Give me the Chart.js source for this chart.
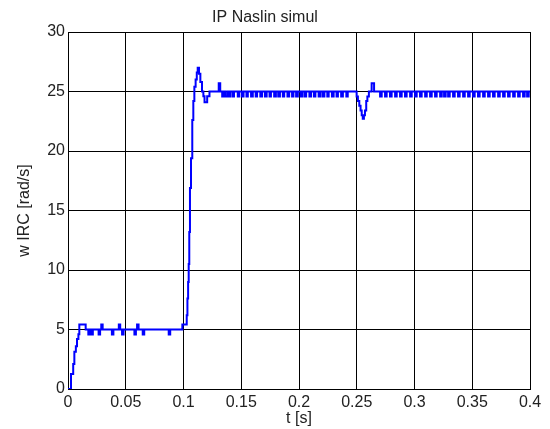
<!DOCTYPE html>
<html>
<head>
<meta charset="utf-8">
<script src="https://cdn.jsdelivr.net/npm/chart.js@4.4.0/dist/chart.umd.min.js"></script>
<style>
    html, body { margin: 0; padding: 0; background: #ffffff; }
    #wrap { width: 550px; height: 429px; }
</style>
</head>
<body>
<div id="wrap"><canvas id="chart" width="550" height="429"></canvas></div>
<script>
// axis ticks
var xTickValues = [0, 0.05, 0.1, 0.15, 0.2, 0.25, 0.3, 0.35, 0.4];
var xTickLabels = ['0', '0.05', '0.1', '0.15', '0.2', '0.25', '0.3', '0.35', '0.4'];
var yTickValues = [0, 5, 10, 15, 20, 25, 30];
var yTickLabels = ['0', '5', '10', '15', '20', '25', '30'];

// each point holds its value until the next time (zero order hold)
// start up and 5 rad/s plateau
var startT = [0, 0.0026, 0.0045, 0.0055, 0.0068, 0.0078, 0.0090, 0.0098, 0.0153, 0.0176, 0.0190, 0.0200, 0.0215,
    0.0265, 0.0278, 0.0288, 0.0300, 0.0380, 0.0393, 0.0440, 0.0452, 0.0468, 0.0481, 0.0575, 0.0588, 0.0598, 0.0611,
    0.0647, 0.0660, 0.0872, 0.0885, 0.0990];
var startW = [0, 1.26, 2.1, 3.13, 3.6, 4.2, 4.6, 5.42, 5.0, 4.58, 5.0, 4.58, 5.0,
    4.58, 5.0, 5.42, 5.0, 4.58, 5.0, 5.42, 5.0, 4.58, 5.0, 4.58, 5.0, 5.42, 5.0,
    4.58, 5.0, 4.58, 5.0, 5.42];

// step to 25 rad/s with overshoot
var stepT = [0.1028, 0.1034, 0.1040, 0.1045, 0.1050, 0.1056, 0.1065, 0.1076, 0.1085, 0.1094, 0.1105, 0.1115, 0.1123,
    0.1134, 0.1146, 0.1160, 0.1172, 0.1182, 0.1205, 0.1225, 0.1305, 0.1318];
var stepW = [6.2, 7.6, 9.0, 10.5, 13.2, 16.9, 19.4, 22.6, 24.2, 25.4, 26.0, 26.6, 27.0,
    26.5, 25.8, 25.0, 24.6, 24.1, 24.6, 25.0, 25.7, 25.0];

// quantisation flicker on the 25 rad/s plateau
var plateauT = [0.1335, 0.1350, 0.1360, 0.1378, 0.1390, 0.1405, 0.1425, 0.1437, 0.1470, 0.1482, 0.1505, 0.1520,
    0.1545, 0.1557, 0.1585, 0.1600, 0.1625, 0.1637, 0.1665, 0.1680, 0.1705, 0.1720, 0.1745, 0.1757, 0.1785, 0.1800,
    0.1820, 0.1835, 0.1860, 0.1872, 0.1900, 0.1915, 0.1940, 0.1952, 0.1975, 0.1990, 0.2015, 0.2030, 0.2050, 0.2062,
    0.2090, 0.2105, 0.2130, 0.2142, 0.2170, 0.2185, 0.2205, 0.2220, 0.2245, 0.2257, 0.2285, 0.2300, 0.2325, 0.2337,
    0.2365, 0.2380, 0.2410, 0.2422];
var plateauW = [24.58, 25, 24.58, 25, 24.58, 25, 24.58, 25, 24.58, 25, 24.58, 25,
    24.58, 25, 24.58, 25, 24.58, 25, 24.58, 25, 24.58, 25, 24.58, 25, 24.58, 25,
    24.58, 25, 24.58, 25, 24.58, 25, 24.58, 25, 24.58, 25, 24.58, 25, 24.58, 25,
    24.58, 25, 24.58, 25, 24.58, 25, 24.58, 25, 24.58, 25, 24.58, 25, 24.58, 25,
    24.58, 25, 24.58, 25];

// load disturbance at 0.25 s
var dipT = [0.2499, 0.2510, 0.2522, 0.2533, 0.2543, 0.2552, 0.2562, 0.2571, 0.2582, 0.2592, 0.2605, 0.2629, 0.2650];
var dipW = [24.58, 24.2, 23.8, 23.4, 23.0, 22.7, 23.0, 23.4, 24.2, 24.58, 25.0, 25.7, 25.0];

// flicker after the disturbance
var tailT = [0.2702, 0.2716, 0.2745, 0.2759, 0.2788, 0.2802, 0.2832, 0.2846, 0.2875, 0.2889, 0.2918, 0.2932,
    0.2962, 0.2976, 0.3005, 0.3019, 0.3048, 0.3062, 0.3092, 0.3106, 0.3135, 0.3149, 0.3178, 0.3192, 0.3222, 0.3236,
    0.3256, 0.3270, 0.3291, 0.3305, 0.3334, 0.3348, 0.3377, 0.3391, 0.3421, 0.3435, 0.3464, 0.3478, 0.3507, 0.3521,
    0.3550, 0.3564, 0.3594, 0.3608, 0.3637, 0.3651, 0.3680, 0.3694, 0.3724, 0.3738, 0.3767, 0.3781, 0.3810, 0.3824,
    0.3854, 0.3868, 0.3897, 0.3911, 0.3940, 0.3954, 0.3975, 0.3989, 0.4000];
var tailW = [24.58, 25, 24.58, 25, 24.58, 25, 24.58, 25, 24.58, 25, 24.58, 25,
    24.58, 25, 24.58, 25, 24.58, 25, 24.58, 25, 24.58, 25, 24.58, 25, 24.58, 25,
    24.58, 25, 24.58, 25, 24.58, 25, 24.58, 25, 24.58, 25, 24.58, 25, 24.58, 25,
    24.58, 25, 24.58, 25, 24.58, 25, 24.58, 25, 24.58, 25, 24.58, 25, 24.58, 25,
    24.58, 25, 24.58, 25, 24.58, 25, 24.58, 25, 25];

/// SUMMARY
///        join the time / value arrays into {x, y} points
function buildPoints(pairs) {
    var points = [];
    pairs.forEach(function (pair) {
        for (var i = 0; i < pair[0].length; i++) {
            points.push({ x: pair[0][i], y: pair[1][i] });
        }
    });
    return points;
}

var FONT = 'Liberation Sans, Arial, Helvetica, sans-serif';
var INK = '#000000';

function fixedTicks(values) {
    return function (scale) {
        scale.ticks = values.map(function (v) { return { value: v }; });
    };
}

var data = {
    datasets: [{
        label: 'w IRC',
        data: buildPoints([[startT, startW], [stepT, stepW], [plateauT, plateauW], [dipT, dipW], [tailT, tailW]]),
        borderColor: 'rgb(0, 0, 255)',
        borderWidth: 2,
        pointRadius: 0,
        stepped: 'before',
        fill: false
    }]
};

var config = {
    type: 'line',
    data: data,
    options: {
        responsive: false,
        animation: false,
        layout: {
            padding: { left: 0, right: 20, top: 0, bottom: 0 }
        },
        scales: {
            x: {
                type: 'linear',
                min: 0,
                max: 0.4,
                afterBuildTicks: fixedTicks(xTickValues),
                afterFit: function (scale) { scale.height = 40; },
                grid: { color: INK, lineWidth: 1, drawTicks: false },
                border: { display: true, color: INK, width: 1 },
                ticks: {
                    padding: 4,
                    color: '#222222',
                    font: { family: FONT, size: 16 },
                    maxRotation: 0,
                    autoSkip: false,
                    callback: function (value, index) { return xTickLabels[index]; }
                },
                title: {
                    display: true,
                    text: 't [s]',
                    color: '#222222',
                    font: { family: FONT, size: 16 },
                    padding: { top: 0, bottom: 1 }
                }
            },
            y: {
                type: 'linear',
                min: 0,
                max: 30,
                afterBuildTicks: fixedTicks(yTickValues),
                afterFit: function (scale) { scale.width = 68; },
                grid: { color: INK, lineWidth: 1, drawTicks: false },
                border: { display: true, color: INK, width: 1 },
                ticks: {
                    padding: 3,
                    color: '#222222',
                    font: { family: FONT, size: 16 },
                    autoSkip: false,
                    callback: function (value, index) { return yTickLabels[index]; }
                },
                title: {
                    display: true,
                    text: 'w IRC [rad/s]',
                    color: '#222222',
                    font: { family: FONT, size: 16 },
                    padding: { top: 15, bottom: 0 }
                }
            }
        },
        plugins: {
            legend: { display: false },
            tooltip: { enabled: false },
            title: {
                display: true,
                text: 'IP Naslin simul',
                color: '#222222',
                font: { family: FONT, size: 16, weight: 'normal' },
                padding: { top: 8, bottom: 4.8 }
            }
        }
    }
};

var jsChart = new Chart(document.getElementById('chart'), config);
</script>
</body>
</html>
